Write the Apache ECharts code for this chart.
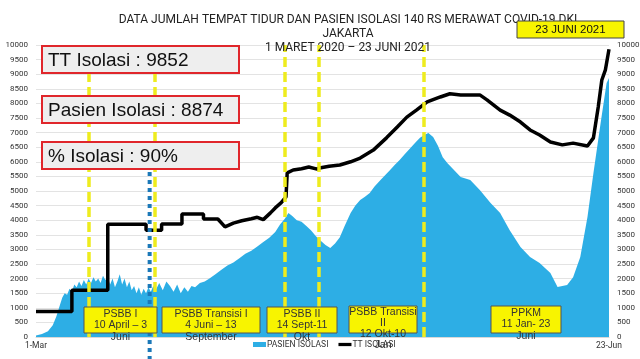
<!DOCTYPE html>
<html>
<head>
<meta charset="utf-8">
<script src="https://cdn.jsdelivr.net/npm/echarts@6/dist/echarts.min.js"></script>
<style>
html,body{margin:0;padding:0;background:#fff;overflow:hidden;}
#chart{width:640px;height:359px;}
</style>
</head>
<body>
<div id="chart"></div>
<script>
// ---- data ----
const xStart = '2020-03-01';
const xEnd = '2021-06-23';
const xTickLabels = ['1-Mar', '23-Jun'];

const pasienDates = [
'2020-03-01','2020-03-06','2020-03-11','2020-03-15','2020-03-18','2020-03-21','2020-03-23','2020-03-25','2020-03-27','2020-03-29',
'2020-03-31','2020-04-02','2020-04-04','2020-04-06','2020-04-08','2020-04-10','2020-04-12','2020-04-14','2020-04-16','2020-04-18',
'2020-04-20','2020-04-22','2020-04-24','2020-04-26','2020-04-28','2020-04-30','2020-05-02','2020-05-04','2020-05-06','2020-05-08',
'2020-05-10','2020-05-12','2020-05-14','2020-05-16','2020-05-18','2020-05-20','2020-05-22','2020-05-24','2020-05-26','2020-05-28',
'2020-05-30','2020-06-01','2020-06-03','2020-06-05','2020-06-07','2020-06-09','2020-06-12','2020-06-15','2020-06-18','2020-06-21',
'2020-06-24','2020-06-27','2020-06-30','2020-07-03','2020-07-06','2020-07-09','2020-07-12','2020-07-16','2020-07-20','2020-07-24',
'2020-07-29','2020-08-03','2020-08-08','2020-08-13','2020-08-18','2020-08-23','2020-08-28','2020-09-02','2020-09-07','2020-09-12',
'2020-09-17','2020-09-21','2020-09-25','2020-09-28','2020-10-01','2020-10-05','2020-10-09','2020-10-13','2020-10-17','2020-10-21',
'2020-10-25','2020-10-29','2020-11-02','2020-11-06','2020-11-10','2020-11-14','2020-11-19','2020-11-23','2020-11-27','2020-12-01',
'2020-12-05','2020-12-09','2020-12-14','2020-12-18','2020-12-22','2020-12-26','2020-12-30','2021-01-03','2021-01-08','2021-01-12',
'2021-01-16','2021-01-20','2021-01-23','2021-01-27','2021-01-31','2021-02-04','2021-02-08','2021-02-12','2021-02-19','2021-02-27',
'2021-03-07','2021-03-16','2021-03-24','2021-04-01','2021-04-10','2021-04-18','2021-04-26','2021-05-05','2021-05-11','2021-05-19',
'2021-05-24','2021-05-30','2021-06-05','2021-06-10','2021-06-16','2021-06-21','2021-06-23'
];
const pasienValues = [
50,100,200,400,700,1100,1350,1500,1450,1650,
1550,1800,1700,1900,1750,1950,1800,2000,1850,2050,
1900,2000,1850,2100,1950,2050,1800,2000,1700,1900,
2150,1800,2000,1700,1900,1600,1750,1500,1700,1450,
1650,1500,1700,1550,1750,1600,1850,1600,1900,1750,
1550,1800,1500,1700,1550,1750,1700,1850,1900,2000,
2150,2300,2450,2550,2700,2850,2950,3100,3250,3400,
3600,3850,4050,4250,4150,4000,3950,3800,3650,3450,
3300,3150,3050,3200,3420,3800,4250,4500,4690,4800,
4930,5150,5380,5550,5720,5900,6060,6250,6470,6650,
6820,6930,6990,6850,6550,6160,5950,5780,5480,5380,
5030,4590,4250,3660,3080,2740,2530,2190,1710,1780,
2050,2740,4110,5620,7330,8700,8874
];

const ttDates = [
'2020-03-01','2020-03-31','2020-03-31','2020-04-30','2020-04-30','2020-06-01','2020-06-01','2020-06-14','2020-06-14','2020-07-01',
'2020-07-01','2020-07-19','2020-07-19','2020-07-31','2020-08-06','2020-08-13','2020-08-20','2020-08-28','2020-09-02','2020-09-07',
'2020-09-13','2020-09-17','2020-09-22','2020-09-26','2020-09-27','2020-10-02','2020-10-09','2020-10-15','2020-10-22','2020-10-24',
'2020-11-01','2020-11-10','2020-11-19','2020-11-27','2020-12-08','2020-12-19','2020-12-28','2021-01-05','2021-01-13','2021-01-22',
'2021-02-02','2021-02-10','2021-02-19','2021-03-07','2021-03-13','2021-03-24','2021-04-01','2021-04-10','2021-04-18','2021-04-26',
'2021-05-05','2021-05-15','2021-05-24','2021-06-05','2021-06-10','2021-06-14','2021-06-17','2021-06-20','2021-06-23'
];
const ttValues = [
870,870,1600,1600,3860,3860,3660,3660,3870,3870,
4210,4210,4040,4040,3770,3900,3980,4050,4100,4020,
4250,4420,4600,4800,5620,5720,5760,5820,5750,5790,
5850,5890,6000,6130,6400,6820,7190,7530,7770,8050,
8220,8330,8290,8290,8120,7770,7600,7360,7090,6920,
6680,6580,6640,6540,6820,7880,8800,9150,9852
];

const yTicks = {min: 0, max: 10000, interval: 500};
const phaseLineDates = ['2020-04-14','2020-06-08','2020-09-25','2020-10-23','2021-01-19'];
const blueLineDate = '2020-06-04';
const blueLineTop = 5650;

const seriesNames = ['PASIEN ISOLASI', 'TT ISOLASI'];
const titleLines = ['DATA JUMLAH TEMPAT TIDUR DAN PASIEN ISOLASI 140 RS MERAWAT COVID-19 DKI', 'JAKARTA', '1 MARET 2020 \u2013 23 JUNI 2021'];
const infoTexts = ['TT Isolasi : 9852', 'Pasien Isolasi : 8874', '% Isolasi : 90%'];
const dateBadge = '23 JUNI 2021';
const phaseLabels = [
  'PSBB I\n10 April \u2013 3\nJuni',
  'PSBB Transisi I\n4 Juni \u2013 13\nSeptember',
  'PSBB II\n14 Sept-11\nOkt',
  'PSBB Transisi\nII\n12 Okt-10\nJan',
  'PPKM\n11 Jan- 23\nJuni'
];

// ---- helpers ----
const t0 = (function(s){const p=s.split('-').map(Number);return Date.UTC(p[0],p[1]-1,p[2]);})(xStart);
function dayOf(s){const p=s.split('-').map(Number);return Math.round((Date.UTC(p[0],p[1]-1,p[2])-t0)/86400000);}
const xMax = dayOf(xEnd);

const chart = echarts.init(document.getElementById('chart'), null, {renderer: 'canvas'});
const FONT = 'Roboto, "Liberation Sans", Arial, sans-serif';
const BOXFONT = '"Liberation Sans", Arial, sans-serif';

// annotation boxes (layout only)
const infoBoxes = [
  {x: 42, y: 46, w: 197, h: 27},
  {x: 42, y: 96, w: 197, h: 27},
  {x: 42, y: 142, w: 197, h: 27}
];
const phaseBoxes = [
  {x: 84, y: 307, w: 73, h: 26},
  {x: 162, y: 307, w: 98, h: 26},
  {x: 267, y: 307, w: 70, h: 26},
  {x: 349, y: 306, w: 68, h: 27},
  {x: 491, y: 306, w: 70, h: 27}
];
const graphics = [];
infoBoxes.forEach((b, i) => {
  graphics.push({type:'rect', z: 100, shape:{x:b.x, y:b.y, width:b.w, height:b.h},
    style:{fill:'#eeeeee', stroke:'#e0262b', lineWidth:2}});
  graphics.push({type:'text', z: 101, x: b.x + 6, y: b.y + b.h/2 + 1,
    style:{text: infoTexts[i], font: '19px ' + BOXFONT, fill:'#111', textVerticalAlign:'middle', verticalAlign:'middle'}});
});
phaseBoxes.forEach((b, i) => {
  graphics.push({type:'rect', z: 100, shape:{x:b.x, y:b.y, width:b.w, height:b.h},
    style:{fill:'#f8f400', stroke:'#555', lineWidth:1}});
  graphics.push({type:'text', z: 101, x: b.x + b.w/2, y: b.y + 1,
    style:{text: phaseLabels[i], font: '10.5px ' + BOXFONT, fill:'#333', align:'center', textAlign:'center', lineHeight: i===3 ? 11 : 11.5}});
});
graphics.push({type:'rect', z: 100, shape:{x:517, y:21, width:107, height:17},
  style:{fill:'#f8f400', stroke:'#444', lineWidth:1}});
graphics.push({type:'text', z: 101, x: 570.5, y: 30,
  style:{text: dateBadge, font: '11.5px ' + BOXFONT, fill:'#111', align:'center', textAlign:'center', verticalAlign:'middle', textVerticalAlign:'middle'}});

const option = {
  backgroundColor: '#ffffff',
  animation: false,
  title: {
    text: titleLines.join('\n'),
    left: 343, top: 8, textAlign: 'center',
    textStyle: {fontSize: 12, fontWeight: 'normal', color: '#222', fontFamily: FONT, lineHeight: 14}
  },
  legend: {
    left: 253, top: 340, padding: 0, itemWidth: 13, itemHeight: 5, itemGap: 10,
    textStyle: {fontSize: 8.5, color: '#333', fontFamily: FONT, padding: [0,0,0,-4]},
    data: [
      {name: seriesNames[0], icon: 'rect'},
      {name: seriesNames[1], icon: 'path://M0,0H20V5H0Z', itemStyle: {color: '#000'}, lineStyle: {width: 0}}
    ]
  },
  grid: {left: 36, right: 31, top: 45, bottom: 22, containLabel: false, outerBoundsMode: 'none'},
  xAxis: {
    type: 'value', min: 0, max: xMax, interval: xMax,
    axisLine: {show: true, lineStyle: {color: '#d9d9d9'}},
    axisTick: {show: false},
    splitLine: {show: false},
    axisLabel: {fontSize: 8.5, color: '#333', fontFamily: FONT, margin: 4,
      formatter: v => v === 0 ? xTickLabels[0] : (v === xMax ? xTickLabels[1] : '')}
  },
  yAxis: [
    {type: 'value', min: yTicks.min, max: yTicks.max, interval: yTicks.interval,
      axisLine: {show: false}, axisTick: {show: false},
      splitLine: {lineStyle: {color: '#e3e3e3', width: 1}},
      axisLabel: {fontSize: 8, color: '#333', fontFamily: FONT, margin: 8, formatter: v => String(v)}},
    {type: 'value', min: yTicks.min, max: yTicks.max, interval: yTicks.interval, position: 'right',
      axisLine: {show: false}, axisTick: {show: false}, splitLine: {show: false},
      axisLabel: {fontSize: 8, color: '#333', fontFamily: FONT, margin: 8, formatter: v => String(v)}}
  ],
  series: [
    {
      name: seriesNames[0], type: 'line', symbol: 'none',
      data: pasienDates.map((d, i) => [dayOf(d), pasienValues[i]]),
      lineStyle: {width: 0}, itemStyle: {color: '#2daee5'},
      areaStyle: {color: '#2daee5', opacity: 1},
      z: 2
    },
    {
      name: seriesNames[1], type: 'line', symbol: 'none', showSymbol: false,
      data: ttDates.map((d, i) => [dayOf(d), ttValues[i]]),
      lineStyle: {width: 3.5, color: '#000'}, itemStyle: {color: '#000'},
      z: 4,
      markLine: {
        silent: true, symbol: ['none', 'none'], label: {show: false},
        data: phaseLineDates.map(d => ({xAxis: dayOf(d), lineStyle: {color: '#eeec1e', width: 3.5, type: [10, 5]}}))
      }
    }
  ],
  graphic: graphics
};
chart.setOption(option);

// blue dotted reference line: top from data scale, runs to the bottom edge of the picture
const pTop = chart.convertToPixel({gridIndex: 0}, [dayOf(blueLineDate), blueLineTop]);
graphics.push({type: 'line', z: 50, silent: true,
  shape: {x1: pTop[0], y1: pTop[1], x2: pTop[0], y2: chart.getHeight()},
  style: {stroke: '#1b78b8', lineWidth: 4, lineDash: [4, 4]}});
chart.setOption({graphic: graphics}, {replaceMerge: ['graphic']});
</script>
</body>
</html>
